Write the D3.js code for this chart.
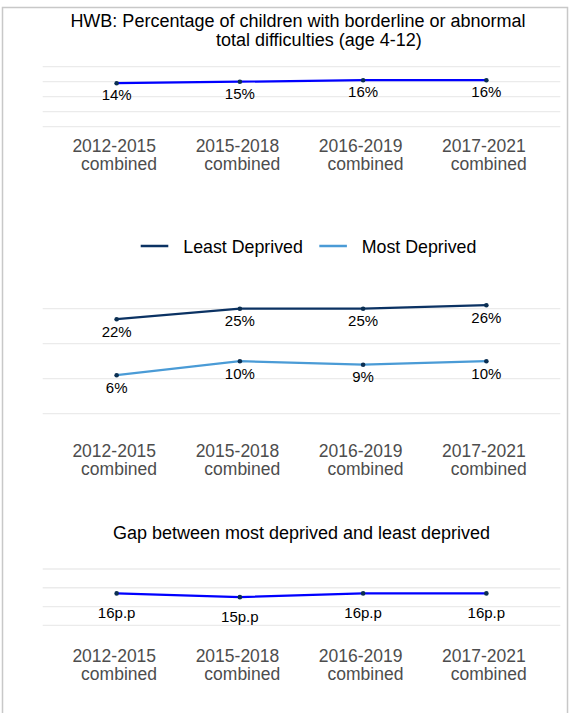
<!DOCTYPE html>
<html>
<head>
<meta charset="utf-8">
<script src="https://cdn.jsdelivr.net/npm/d3@7"></script>
<style>
  html, body { margin: 0; padding: 0; background: #fff; }
  svg { display: block; font-family: "Liberation Sans", Arial, sans-serif; }
</style>
</head>
<body>
<script>
// ---- data ----
const periods = ["2012-2015 combined", "2015-2018 combined", "2016-2019 combined", "2017-2021 combined"];
const periodLines = [["2012-2015", "combined"], ["2015-2018", "combined"], ["2016-2019", "combined"], ["2017-2021", "combined"]];
const overallValues = [14, 15, 16, 16];
const leastDeprivedValues = [22, 25, 25, 26];
const mostDeprivedValues = [6, 10, 9, 10];
const gapValues = [16, 15, 16, 16];
const seriesNames = ["Least Deprived", "Most Deprived"];
const topGrid = [-15, -5, 5, 15, 25];
const midGrid = [-5, 5, 15, 25];
const gapGrid = [7.5, 12.5, 17.5, 22.5];
const titleLines = ["HWB: Percentage of children with borderline or abnormal", "total difficulties (age 4-12)"];
const gapTitle = "Gap between most deprived and least deprived";

// ---- styles ----
const W = 572, H = 713;
const navy = "#0b3263";
const lightBlue = "#4a9bd6";
const blue = "#0000ff";
const pointCol = "#0b2f52";
const gridCol = "#ebebeb";
const axisCol = "#4d4d4d";

const svg = d3.select("body").append("svg").attr("width", W).attr("height", H);

// outer frame
svg.append("rect").attr("x", 2.5).attr("y", 7.5).attr("width", 565).attr("height", 720)
  .attr("fill", "none").attr("stroke", "#c8c8c8").attr("stroke-width", 1.5);

const x = d3.scalePoint().domain(periods).range([42.7, 560.3]).padding(0.6);

function panel(cfg) {
  const y = d3.scaleLinear().domain(cfg.domain).range(cfg.range);
  const g = svg.append("g");
  g.selectAll("line.grid").data(cfg.grid).join("line")
    .attr("x1", 42.7).attr("x2", 560.3)
    .attr("y1", d => y(d)).attr("y2", d => y(d))
    .attr("stroke", gridCol).attr("stroke-width", 1.3);
  const line = d3.line().x((d, i) => x(periods[i])).y(d => y(d));
  cfg.series.forEach(s => {
    g.append("path").datum(s.values).attr("d", line)
      .attr("fill", "none").attr("stroke", s.color).attr("stroke-width", 2.2);
  });
  cfg.series.forEach(s => {
    g.selectAll(null).data(s.values).join("circle")
      .attr("cx", (d, i) => x(periods[i])).attr("cy", d => y(d)).attr("r", 2.3)
      .attr("fill", pointCol);
    g.selectAll(null).data(s.values).join("text")
      .attr("x", (d, i) => x(periods[i])).attr("y", d => y(d) + cfg.labelOffset)
      .attr("text-anchor", "middle").attr("font-size", 15).attr("fill", "#000")
      .text(d => d + cfg.suffix);
  });
  // x axis labels
  const ax = g.selectAll("text.ax").data(periods).join("text")
    .attr("class", "ax").attr("text-anchor", "middle").attr("font-size", 17.5).attr("fill", axisCol);
  ax.append("tspan").attr("x", d => x(d) - 2.4).attr("y", cfg.axisY).text((d, i) => periodLines[i][0]);
  ax.append("tspan").attr("x", d => x(d) + 2.4).attr("y", cfg.axisY + 18.5).text((d, i) => periodLines[i][1]);
}

// title
svg.append("text").attr("x", 298).attr("y", 26.7).attr("text-anchor", "middle")
  .attr("font-size", 18).attr("fill", "#000").text(titleLines[0]);
svg.append("text").attr("x", 318.8).attr("y", 45.5).attr("text-anchor", "middle")
  .attr("font-size", 18).attr("fill", "#000").text(titleLines[1]);

panel({
  domain: [-15, 25], range: [126.7, 66.7], grid: topGrid,
  series: [{ values: overallValues, color: blue }],
  labelOffset: 17, suffix: "%", axisY: 151.5
});

// legend
const legendItems = [
  { name: seriesNames[0], color: navy, x0: 140.7, tx: 183.3 },
  { name: seriesNames[1], color: lightBlue, x0: 319.3, tx: 361.7 }
];
legendItems.forEach(d => {
  svg.append("line").attr("x1", d.x0).attr("x2", d.x0 + 27.6).attr("y1", 246).attr("y2", 246)
    .attr("stroke", d.color).attr("stroke-width", 2.5);
  svg.append("text").attr("x", d.tx).attr("y", 252.5).attr("font-size", 17.8).attr("fill", "#000").text(d.name);
});

panel({
  domain: [-5, 25], range: [413.7, 308.7], grid: midGrid,
  series: [{ values: leastDeprivedValues, color: navy }, { values: mostDeprivedValues, color: lightBlue }],
  labelOffset: 17.5, suffix: "%", axisY: 456.5
});

svg.append("text").attr("x", 301.5).attr("y", 538.5).attr("text-anchor", "middle")
  .attr("font-size", 18).attr("fill", "#000").text(gapTitle);

panel({
  domain: [7.5, 22.5], range: [625.3, 569], grid: gapGrid,
  series: [{ values: gapValues, color: blue }],
  labelOffset: 25, suffix: "p.p", axisY: 661.5
});
</script>
</body>
</html>
